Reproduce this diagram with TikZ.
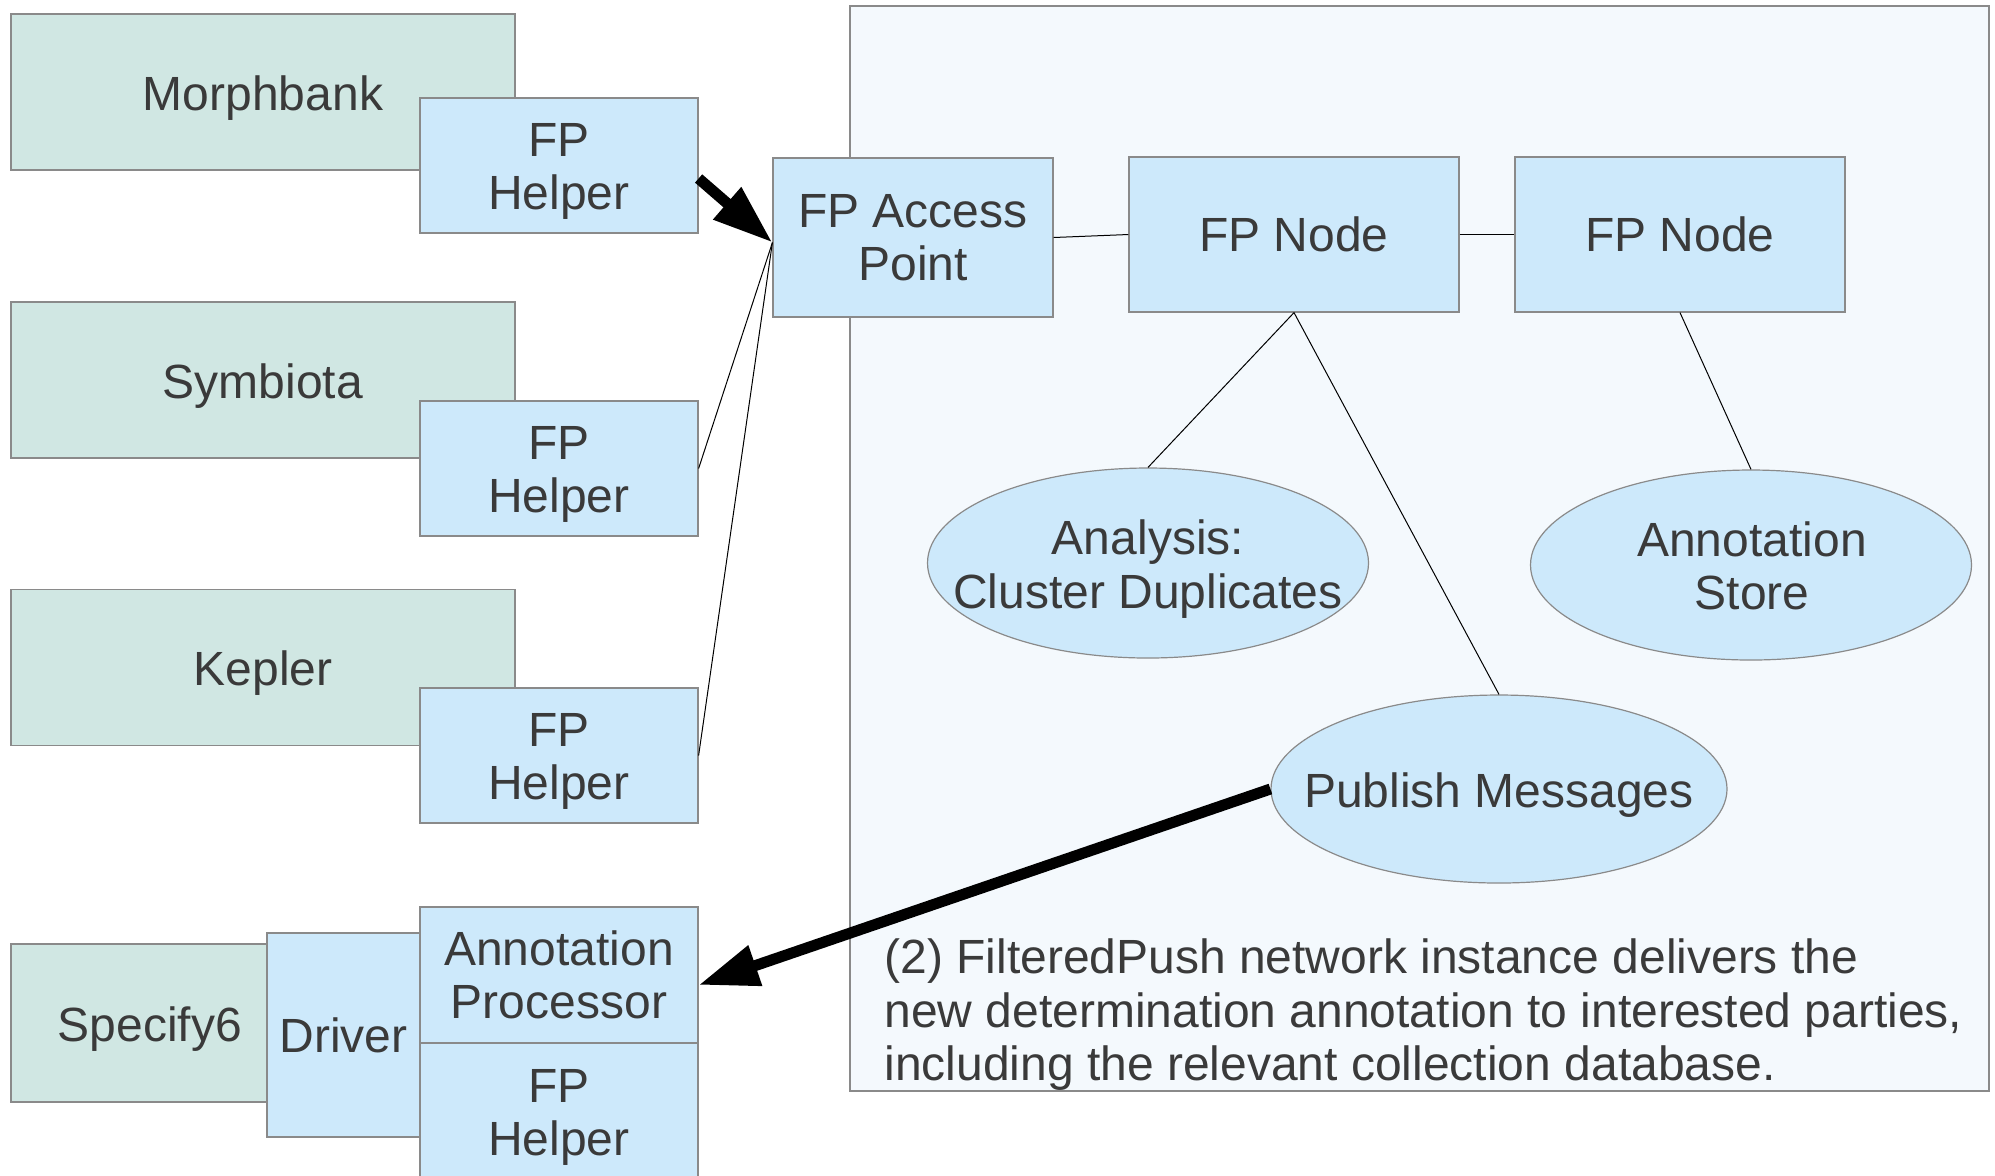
\documentclass[tikz,border=0pt]{standalone}
\usepackage{fontspec}
\setmainfont{Liberation Sans}
\usetikzlibrary{arrows.meta,calc,shapes.geometric}
\definecolor{txt}{HTML}{3A3A3A}
\definecolor{edge}{HTML}{8A8A8A}
\definecolor{sysfill}{HTML}{D0E7E3}
\definecolor{fpfill}{HTML}{CDE9FB}
\definecolor{panelfill}{HTML}{F4F9FD}
\begin{document}
\begin{tikzpicture}[x=0.5pt,y=-0.5pt,
  every node/.style={font=\fontsize{24}{26.75}\selectfont, text=txt, inner sep=0pt, align=center},
  sysbox/.style={draw=edge, line width=0.6pt, fill=sysfill, minimum width=252pt, minimum height=78pt},
  fpbox/.style={draw=edge, line width=0.6pt, fill=fpfill},
  helperbox/.style={fpbox, minimum width=139pt, minimum height=67.5pt},
  nodebox/.style={fpbox, minimum width=165pt, minimum height=77.5pt},
  fpell/.style={fpbox, ellipse, minimum width=220.5pt, minimum height=95pt},
  link/.style={draw=black, line width=0.5pt},
  bigarrow/.style={draw=black, line width=5.5pt, -{Triangle[length=30pt,width=20pt]}}]
\clip (0,0) rectangle (1995,1175);
\fill[white] (0,0) rectangle (1995,1175);
% panel
\node[draw=edge, line width=0.6pt, fill=panelfill, minimum width=569.5pt, minimum height=542.5pt] (panel) at (1419.5,548.5) {};
% left systems
\node[sysbox] (mb) at (263,92) {};
\node (mbt) at (263,98) {Morphbank};
\node[helperbox] (h1) at (559,165.5) {};
\node (h1t) at (559,171.5) {FP\\Helper};
\node[sysbox] (sy) at (263,380) {};
\node (syt) at (263,386) {Symbiota};
\node[helperbox] (h2) at (559,468.5) {};
\node (h2t) at (559,474.5) {FP\\Helper};
\node[sysbox] (ke) at (263,667.5) {};
\node (ket) at (263,673.5) {Kepler};
\node[helperbox] (h3) at (559,755.5) {};
\node (h3t) at (559,761.5) {FP\\Helper};
\node[sysbox, minimum width=128pt, minimum height=79pt] (sp) at (139,1023) {};
\node (spt) at (150,1029) {Specify6};
\node[fpbox, minimum width=76.5pt, minimum height=102pt] (dr) at (343.5,1035) {Driver};
\node[helperbox, minimum height=68pt] (ap2) at (559,975) {Annotation\\Processor};
\node[helperbox, minimum height=68.5pt] (h4) at (559,1111.5) {};
\node (h4t) at (559,1117.5) {FP\\Helper};
% network
\node[fpbox, minimum width=140pt, minimum height=79.5pt] (ap) at (913,237.5) {FP Access\\Point};
\node[nodebox] (n1) at (1294,234.5) {FP Node};
\node[nodebox] (n2) at (1680,234.5) {FP Node};
\node[fpell] (an) at (1148,563) {};
\node (ant) at (1148,569) {Analysis:\\Cluster Duplicates};
\node[fpell] (st) at (1751,565) {};
\node (stt) at (1752,566) {Annotation\\Store};
\node[fpell, minimum width=228pt, minimum height=94pt] (pub) at (1499,789) {};
\node (pubt) at (1499,795) {Publish Messages};
\node[anchor=west, align=left] (para) at (884,1015) {(2) FilteredPush network instance delivers the\\new determination annotation to interested parties,\\including the relevant collection database.};
% connectors
\draw[link] (ap.east) -- (n1.west);
\draw[link] (n1.east) -- (n2.west);
\draw[link] (n1.south) -- (an.north);
\draw[link] (n1.south) -- (pub.north);
\draw[link] (n2.south) -- (st.north);
\draw[link] (h2.east) -- ($(ap.west)+(0,5)$);
\draw[link] (h3.east) -- ($(ap.west)+(0,5)$);
\draw[bigarrow] ($(h1.east)+(0,13)$) -- ($(ap.west)+(0,5)$);
\draw[bigarrow] (pub.west) -- ($(ap2.east)+(0,10)$);
\end{tikzpicture}
\end{document}
